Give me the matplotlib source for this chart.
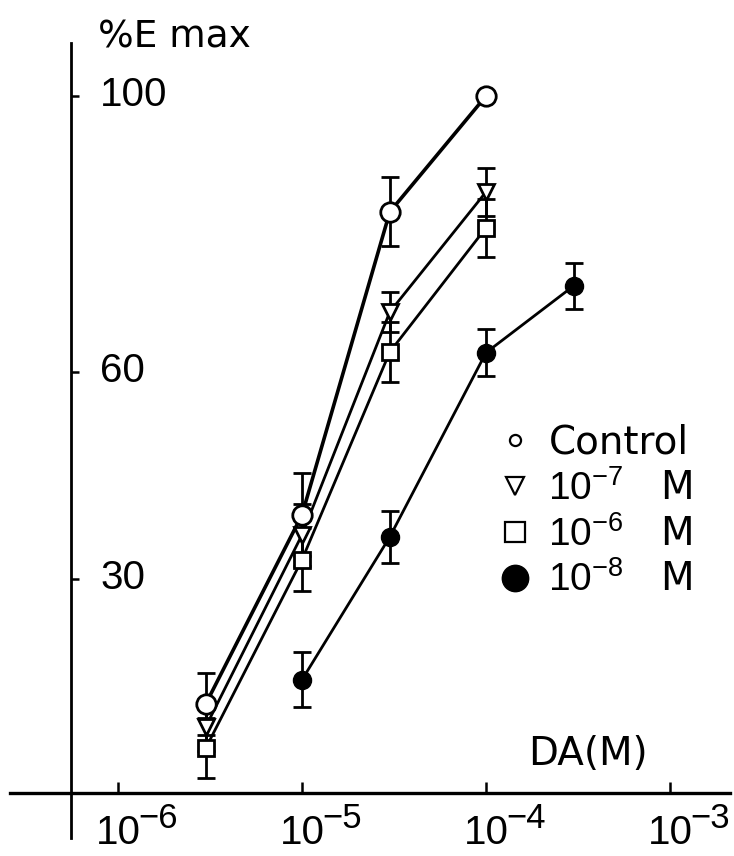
import numpy as np
import matplotlib
matplotlib.use("Agg")
import matplotlib.pyplot as plt
from matplotlib.lines import Line2D
from matplotlib.ticker import NullLocator

plt.rcParams['font.family'] = ['DejaVu Sans']
plt.rcParams['mathtext.fontset'] = 'custom'
plt.rcParams['mathtext.rm'] = 'Liberation Sans'
plt.rcParams['mathtext.it'] = 'Liberation Sans:italic'
plt.rcParams['mathtext.bf'] = 'Liberation Sans:bold'
NUMFONT = ['Liberation Sans', 'DejaVu Sans']

# ---------------- data ----------------
conc = [3e-6, 1e-5, 3e-5, 1e-4]              # DA (M) for control / 1e-7 / 1e-6
conc_b = [1e-5, 3e-5, 1e-4, 3e-4]            # DA (M) for 1e-8 M series
control = [11.9, 39.3, 83.2, 100.0]
control_err = [4.5, 6.0, 5.0, np.nan]
ant_1e7 = [8.6, 36.4, 68.7, 86.1]
ant_1e7_err = [3.5, 4.5, 2.9, 3.5]
ant_1e6 = [5.5, 32.8, 62.9, 80.9]
ant_1e6_err = [4.3, 4.6, 4.3, 4.2]
ant_1e8 = [15.4, 36.1, 62.8, 72.5]
ant_1e8_err = [4.0, 3.8, 3.4, 3.3]

xticks = [1e-6, 1e-5, 1e-4, 1e-3]
xtick_exp = ['\u22126', '\u22125', '\u22124', '\u22123']
yticks = [30, 60, 100]
legend_labels = ['Control', r'$10^{-7}$   M', r'$10^{-6}$   M', r'$10^{-8}$   M']

# ---------------- layout ----------------
W, H = 734, 856
DEC_PX = 184.0      # pixels per decade
X5_PX = 302.0       # pixel position of 1e-5
Y_PX = 6.9          # pixels per % unit
Y0_PX = 786.0       # pixel row of 0 %

def px_to_x(px):
    return 10 ** (-5 + (px - X5_PX) / DEC_PX)

def py_to_y(py):
    return (Y0_PX - py) / Y_PX

fig = plt.figure(figsize=(W / 100, H / 100), dpi=100)
ax = fig.add_axes([0, 0, 1, 1])
ax.set_xscale('log')
ax.set_xlim(px_to_x(0), px_to_x(W))
ax.set_ylim(py_to_y(H), py_to_y(0))
ax.patch.set_visible(False)

x_axis_pos = px_to_x(71)
y_axis_pos = py_to_y(793)

for s in ['top', 'right']:
    ax.spines[s].set_visible(False)
ax.spines['left'].set_position(('data', x_axis_pos))
ax.spines['left'].set_bounds(py_to_y(838), py_to_y(43))
ax.spines['left'].set_linewidth(2.0)
ax.spines['bottom'].set_position(('data', y_axis_pos))
ax.spines['bottom'].set_bounds(px_to_x(10), px_to_x(730))
ax.spines['bottom'].set_linewidth(2.4)

ax.xaxis.set_minor_locator(NullLocator())
ax.set_xticks(xticks)
ax.set_xticklabels([''] * len(xticks))
ax.set_yticks(yticks)
ax.set_yticklabels([''] * len(yticks))
ax.tick_params(axis='x', direction='in', length=8, width=1.8)
ax.tick_params(axis='y', direction='in', length=6, width=1.8)

FS = 28
FS_NUM = 29

# y tick labels (to the right of the axis)
for v in yticks:
    ax.annotate(str(v), xy=(x_axis_pos, v), xycoords='data',
                xytext=(29, -10), textcoords='offset pixels',
                ha='left', va='baseline', fontsize=FS_NUM, family=NUMFONT)

# x tick labels: "10" centred on the tick, exponent to the right
for v, e in zip(xticks, xtick_exp):
    ax.annotate('10', xy=(v, y_axis_pos), xycoords='data',
                xytext=(0, -51), textcoords='offset pixels',
                ha='center', va='baseline', fontsize=FS_NUM, family=NUMFONT)
    ax.annotate(e, xy=(v, y_axis_pos), xycoords='data',
                xytext=(20, -35), textcoords='offset pixels',
                ha='left', va='baseline', fontsize=FS_NUM * 0.86, family=NUMFONT)

fig.text(98 / W, 1 - 47 / H, '%E max', ha='left', va='baseline', fontsize=27)
fig.text(528 / W, 1 - 765 / H, 'DA(M)', ha='left', va='baseline', fontsize=FS)

# ---------------- series ----------------
series = [
    (conc, control, control_err, dict(marker='o', ms=14, mfc='white', mew=2.0), 2.6),
    (conc, ant_1e7, ant_1e7_err, dict(marker='v', ms=11, mfc='white', mew=2.0), 2.0),
    (conc, ant_1e6, ant_1e6_err, dict(marker='s', ms=11, mfc='white', mew=2.0), 2.0),
    (conc_b, ant_1e8, ant_1e8_err, dict(marker='o', ms=13, mfc='black', mew=1.0), 2.0),
]

for x, y, e, mk, lw in series:
    ax.errorbar(x, y, yerr=e, fmt='none', ecolor='black', elinewidth=2.0,
                capsize=6.5, capthick=2.0, zorder=2)
    ax.plot(x, y, color='black', lw=lw, zorder=3, solid_capstyle='round')
for x, y, e, mk, lw in series:
    ax.plot(x, y, ls='none', mec='black', zorder=4, **mk)

handles = [
    Line2D([], [], ls='none', marker='o', ms=8, mfc='white', mec='black', mew=1.6),
    Line2D([], [], ls='none', marker='v', ms=13, mfc='white', mec='black', mew=1.6),
    Line2D([], [], ls='none', marker='s', ms=15, mfc='white', mec='black', mew=1.6),
    Line2D([], [], ls='none', marker='o', ms=19, mfc='black', mec='black', mew=1.0),
]
ax.legend(handles, legend_labels, loc='upper left',
          bbox_to_anchor=(496 / W, 1 - 424 / H), frameon=False,
          fontsize=FS, handlelength=1.0, handletextpad=0.35,
          labelspacing=0.2, borderpad=0.0, borderaxespad=0.0)

fig.savefig('out.png', dpi=100)
